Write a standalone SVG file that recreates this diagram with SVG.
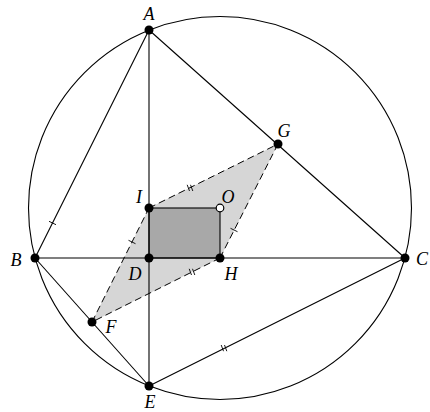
<svg xmlns="http://www.w3.org/2000/svg" width="430" height="412" viewBox="0 0 430 412">
<style>
.ln{stroke:#000;stroke-width:1.1;fill:none}
.da{stroke:#000;stroke-width:1;fill:none;stroke-dasharray:7 4}
.tk{stroke:#000;stroke-width:0.9;fill:none}
.lb{font-family:"Liberation Serif","DejaVu Serif",serif;font-style:italic;font-size:18px;text-anchor:middle;fill:#000}
.pt{fill:#000}
</style>
<rect width="430" height="412" fill="#fff"/>
<g id="shapes">
<polygon points="149,208 278,144 220,258 92,322" fill="#d6d6d6" stroke="none"/>
<rect x="149" y="208" width="71" height="50" fill="#a8a8a8" stroke="#000" stroke-width="1.1"/>
</g>
<g id="connectors">
<circle class="ln" cx="220" cy="208" r="191.5"/>
<line class="ln" x1="149" y1="30" x2="35" y2="258"/>
<line class="ln" x1="149" y1="30" x2="405" y2="258"/>
<line class="ln" x1="149" y1="30" x2="149" y2="386"/>
<line class="ln" x1="35" y1="258" x2="405" y2="258"/>
<line class="ln" x1="35" y1="258" x2="149" y2="386"/>
<line class="ln" x1="149" y1="386" x2="405" y2="258"/>
<line class="da" x1="149" y1="208" x2="278" y2="144"/>
<line class="da" x1="278" y1="144" x2="220" y2="258"/>
<line class="da" x1="220" y1="258" x2="92" y2="322"/>
<line class="da" x1="92" y1="322" x2="149" y2="208"/>
<line class="tk" x1="49" y1="221.3" x2="56" y2="224.7"/>
<line class="tk" x1="128.5" y1="240.3" x2="135.5" y2="243.7"/>
<line class="tk" x1="230.5" y1="228.3" x2="237.5" y2="231.7"/>
<line class="tk" x1="187.2" y1="184.8" x2="189.5" y2="191"/>
<line class="tk" x1="190.5" y1="184.8" x2="192.8" y2="191"/>
<line class="tk" x1="189.2" y1="268.8" x2="191.5" y2="275"/>
<line class="tk" x1="192.5" y1="268.8" x2="194.8" y2="275"/>
<line class="tk" x1="221.2" y1="345" x2="223.5" y2="351.2"/>
<line class="tk" x1="224.5" y1="345" x2="226.8" y2="351.2"/>
</g>
<g id="A"><circle class="pt" cx="149" cy="30" r="4.5"/><text class="lb" x="149" y="20">A</text></g>
<g id="B"><circle class="pt" cx="35" cy="258" r="4.5"/><text class="lb" x="16" y="266">B</text></g>
<g id="C"><circle class="pt" cx="405" cy="258" r="4.5"/><text class="lb" x="422" y="265">C</text></g>
<g id="D"><circle class="pt" cx="149" cy="258" r="4.5"/><text class="lb" x="135" y="280">D</text></g>
<g id="E"><circle class="pt" cx="149" cy="386" r="4.5"/><text class="lb" x="150" y="408">E</text></g>
<g id="F"><circle class="pt" cx="92" cy="322" r="4.5"/><text class="lb" x="111" y="333">F</text></g>
<g id="G"><circle class="pt" cx="278" cy="144" r="4.5"/><text class="lb" x="284" y="137">G</text></g>
<g id="H"><circle class="pt" cx="220" cy="258" r="4.5"/><text class="lb" x="231" y="280">H</text></g>
<g id="I"><circle class="pt" cx="149" cy="208" r="4.5"/><text class="lb" x="139" y="203">I</text></g>
<g id="O"><circle cx="220" cy="208" r="3.8" fill="#fff" stroke="#000" stroke-width="1.2"/><text class="lb" x="228" y="203">O</text></g>
</svg>
